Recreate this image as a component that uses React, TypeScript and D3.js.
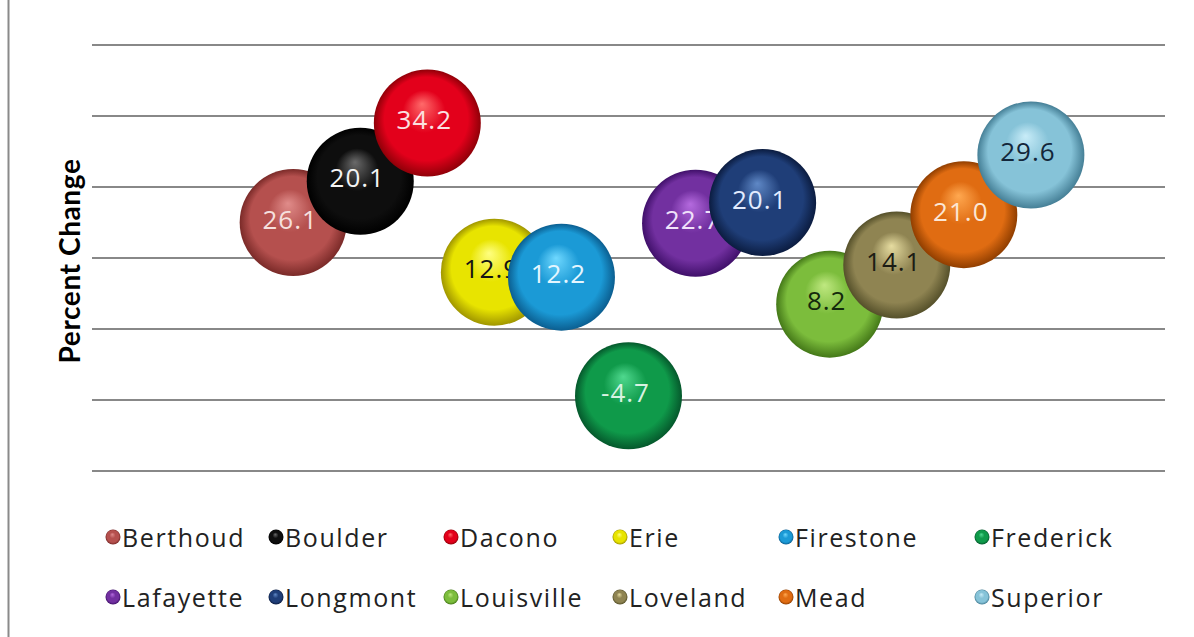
import React from "react";
import * as d3 from "d3";

const cities = ["Berthoud", "Boulder", "Dacono", "Erie", "Firestone", "Frederick", "Lafayette", "Longmont", "Louisville", "Loveland", "Mead", "Superior"];
const xIndex = [1, 2, 3, 4, 5, 6, 7, 8, 9, 10, 11, 12];
const yValues = [15.0, 20.8, 29.0, 8.0, 7.3, -9.4, 14.9, 17.8, 3.5, 9.0, 16.1, 24.5];
const percentLabels = ["26.1", "20.1", "34.2", "12.9", "12.2", "-4.7", "22.7", "20.1", "8.2", "14.1", "21.0", "29.6"];
const bubbleSizes = [1, 1, 1, 1, 1, 1, 1, 1, 1, 1, 1, 1];
const yTicks = [-20, -10, 0, 10, 20, 30, 40];

const baseColors = ["#b5504e", "#0e0e0e", "#e3001b", "#e8e400", "#1b9ad6", "#0f9a4a", "#7230a0", "#1f3e78", "#7cbd3c", "#8f8452", "#e06c12", "#86c3d8"];
const lightColors = ["#e08c8a", "#6a6a6a", "#ff6a6a", "#ffff80", "#6fd8ff", "#4fd88e", "#b46ade", "#5f88c6", "#bfe880", "#e6dca0", "#ffa850", "#c8ecf8"];
const darkColors = ["#7a2a28", "#000000", "#900008", "#a09600", "#0b5e90", "#05582c", "#40106a", "#0b1c40", "#447818", "#55502a", "#903e00", "#457f96"];
const labelColors = ["#f6e0de", "#f4f4f4", "#fbe0e0", "#141414", "#e4f6ff", "#d8f2e2", "#f0e2fa", "#e2ecff", "#142a0c", "#1c1c14", "#fbe6d4", "#13263a"];

const W = 1194;
const H = 637;
const plotLeft = 92;
const plotRight = 1165;
const plotTop = 45;
const plotBottom = 471;

const legendCols = [113, 276, 451, 620, 786, 982];
const legendRows = [537, 597];

export default function App() {
  const x = d3.scaleLinear().domain([-2, 14]).range([plotLeft, plotRight]);
  const y = d3.scaleLinear().domain([-20, 40]).range([plotBottom, plotTop]);
  const r = d3.scaleSqrt().domain([0, 1]).range([0, 53.5]);

  return (
    <div style={{ position: "absolute", left: 0, top: 0 }}>
      <svg width={W} height={H} style={{ display: "block", background: "#ffffff" }}>
        <defs>
          {cities.map((c, i) => (
            <radialGradient key={c} id={`g${i}`} cx="50%" cy="50%" r="50%" fx="45%" fy="32%">
              <stop offset="0%" stopColor={lightColors[i]} />
              <stop offset="40%" stopColor={baseColors[i]} />
              <stop offset="78%" stopColor={baseColors[i]} />
              <stop offset="100%" stopColor={darkColors[i]} />
            </radialGradient>
          ))}
        </defs>

        <line x1={8.5} x2={8.5} y1={0} y2={H} stroke="#8a8a8a" strokeWidth={2} />

        {yTicks.map((t) => (
          <line key={t} x1={plotLeft} x2={plotRight} y1={y(t)} y2={y(t)} stroke="#888888" strokeWidth={2} />
        ))}

        <text
          transform={`translate(80, ${(160 + 362) / 2}) rotate(-90)`}
          textAnchor="middle"
          fontFamily="Lato, 'Open Sans', sans-serif"
          fontWeight="bold"
          fontSize={28}
          letterSpacing={0.6}
          fill="#000"
        >
          Percent Change
        </text>

        {cities.map((c, i) => (
          <g key={c}>
            <circle
              cx={x(xIndex[i])}
              cy={y(yValues[i])}
              r={r(bubbleSizes[i])}
              fill={`url(#g${i})`}
            />
            <text
              x={x(xIndex[i]) - 3}
              y={y(yValues[i]) - 4}
              textAnchor="middle"
              dominantBaseline="central"
              fontFamily="'Open Sans', sans-serif"
              fontSize={26}
              letterSpacing={1}
              fill={labelColors[i]}
            >
              {percentLabels[i]}
            </text>
          </g>
        ))}

        {cities.map((c, i) => {
          const col = i % 6;
          const row = Math.floor(i / 6);
          const lx = legendCols[col];
          const ly = legendRows[row];
          return (
            <g key={`l${c}`}>
              <circle cx={lx} cy={ly} r={7.5} fill={`url(#g${i})`} />
              <text
                x={lx + 9}
                y={ly}
                dominantBaseline="central"
                fontFamily="'Open Sans', sans-serif"
                fontSize={25}
                letterSpacing={1.6}
                fill="#222"
              >
                {c}
              </text>
            </g>
          );
        })}
      </svg>
    </div>
  );
}
